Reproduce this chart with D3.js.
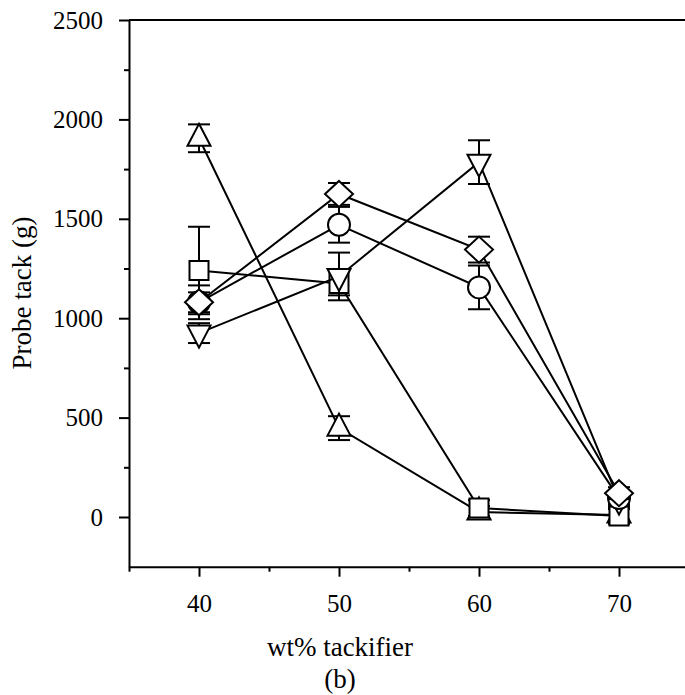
<!DOCTYPE html>
<html>
<head>
<meta charset="utf-8">
<script src="https://cdn.jsdelivr.net/npm/d3@7"></script>
<style>
  body { margin: 0; background: #fff; }
  svg text { font-family: "Liberation Serif", "Times New Roman", serif; fill: #000; }
</style>
</head>
<body>
<svg id="chart" width="685" height="695"></svg>
<script>
// Tackifier content (wt%) on the x axis
const tackifier = [40, 50, 60, 70];

// Probe tack (g) per series with symmetric error bars
const triUpVals   = [1905, 447, 25, 10];
const triUpErr    = [70, 60, 30, 30];
const squareVals  = [1240, 1175, 45, 5];
const squareErr   = [220, 60, 40, 40];
const triDownVals = [925, 1210, 1785, 85];
const triDownErr  = [50, 120, 110, 30];
const circleVals  = [1080, 1470, 1155, 95];
const circleErr   = [50, 90, 110, 30];
const diamondVals = [1080, 1625, 1345, 120];
const diamondErr  = [85, 55, 65, 30];

const yMajor = [0, 500, 1000, 1500, 2000, 2500];
const yMinor = [250, 750, 1250, 1750, 2250];
const xMajor = [40, 50, 60, 70];
const xMinor = [35, 45, 55, 65, 75];

const svg = d3.select("#chart");
const x = d3.scaleLinear().domain([35, 75]).range([129, 689]);
const y = d3.scaleLinear().domain([-250, 2500]).range([566.7, 20]);

const sw = 2;
const tickFont = 25;
const titleFont = 27;

// marker shapes centred on the origin
const shapes = {
  triUp:   "M0,-14.5L11.5,7.5L-11.5,7.5Z",
  triDown: "M0,14.5L11.5,-7.5L-11.5,-7.5Z",
  square:  "M-9.5,-9.5H9.5V9.5H-9.5Z",
  diamond: "M0,-13L14,0L0,13L-14,0Z",
  circle:  d3.arc()({innerRadius: 0, outerRadius: 11, startAngle: 0, endAngle: 2 * Math.PI})
};

const series = [
  {shape: "triUp",   vals: triUpVals,   err: triUpErr},
  {shape: "square",  vals: squareVals,  err: squareErr},
  {shape: "triDown", vals: triDownVals, err: triDownErr},
  {shape: "circle",  vals: circleVals,  err: circleErr},
  {shape: "diamond", vals: diamondVals, err: diamondErr}
];

// axes
svg.append("g").attr("transform", `translate(${x(35)},0)`)
  .call(d3.axisLeft(y).tickValues(yMajor).tickSize(10).tickSizeOuter(0)
    .tickPadding(16).tickFormat(d3.format("d")));
svg.append("g").attr("transform", `translate(${x(35)},0)`)
  .call(d3.axisLeft(y).tickValues(yMinor).tickSize(5).tickSizeOuter(0).tickFormat(""))
  .select(".domain").remove();
svg.append("g").attr("transform", `translate(0,${y(-250)})`)
  .call(d3.axisBottom(x).tickValues(xMajor).tickSize(10).tickSizeOuter(0)
    .tickPadding(18).tickFormat(d3.format("d")));
svg.append("g").attr("transform", `translate(0,${y(-250)})`)
  .call(d3.axisBottom(x).tickValues(xMinor).tickSize(5).tickSizeOuter(0).tickFormat(""))
  .select(".domain").remove();

svg.selectAll(".domain, .tick line").attr("stroke", "#000").attr("stroke-width", sw);
svg.selectAll(".tick text").attr("font-size", tickFont)
  .attr("font-family", '"Liberation Serif", "Times New Roman", serif');

// top frame line
svg.append("line")
  .attr("x1", x(35)).attr("x2", x(75))
  .attr("y1", y(2500)).attr("y2", y(2500))
  .attr("stroke", "#000").attr("stroke-width", sw);

// series: connecting line, error bars, markers
series.forEach(s => {
  const g = svg.append("g");
  const pts = tackifier.map((t, i) => ({t, v: s.vals[i], e: s.err[i]}));
  g.append("path")
    .attr("d", d3.line().x(d => x(d.t)).y(d => y(d.v))(pts))
    .attr("fill", "none").attr("stroke", "#000").attr("stroke-width", sw);
  const eb = g.selectAll(".eb").data(pts).join("g").attr("class", "eb")
    .attr("stroke", "#000").attr("stroke-width", sw);
  eb.append("line")
    .attr("x1", d => x(d.t)).attr("x2", d => x(d.t))
    .attr("y1", d => y(d.v - d.e)).attr("y2", d => y(d.v + d.e));
  eb.append("line")
    .attr("x1", d => x(d.t) - 11).attr("x2", d => x(d.t) + 11)
    .attr("y1", d => y(d.v + d.e)).attr("y2", d => y(d.v + d.e));
  eb.append("line")
    .attr("x1", d => x(d.t) - 11).attr("x2", d => x(d.t) + 11)
    .attr("y1", d => y(d.v - d.e)).attr("y2", d => y(d.v - d.e));
  g.selectAll(".mk").data(pts).join("path").attr("class", "mk")
    .attr("d", shapes[s.shape])
    .attr("transform", d => `translate(${x(d.t)},${y(d.v)})`)
    .attr("fill", "#fff").attr("stroke", "#000").attr("stroke-width", sw);
});

// axis titles
svg.append("text")
  .attr("transform", `translate(31,293) rotate(-90)`)
  .attr("text-anchor", "middle").attr("font-size", titleFont)
  .text("Probe tack (g)");
svg.append("text")
  .attr("x", 340).attr("y", 656)
  .attr("text-anchor", "middle").attr("font-size", titleFont)
  .text("wt% tackifier");
svg.append("text")
  .attr("x", 340).attr("y", 688)
  .attr("text-anchor", "middle").attr("font-size", titleFont)
  .text("(b)");
</script>
</body>
</html>
